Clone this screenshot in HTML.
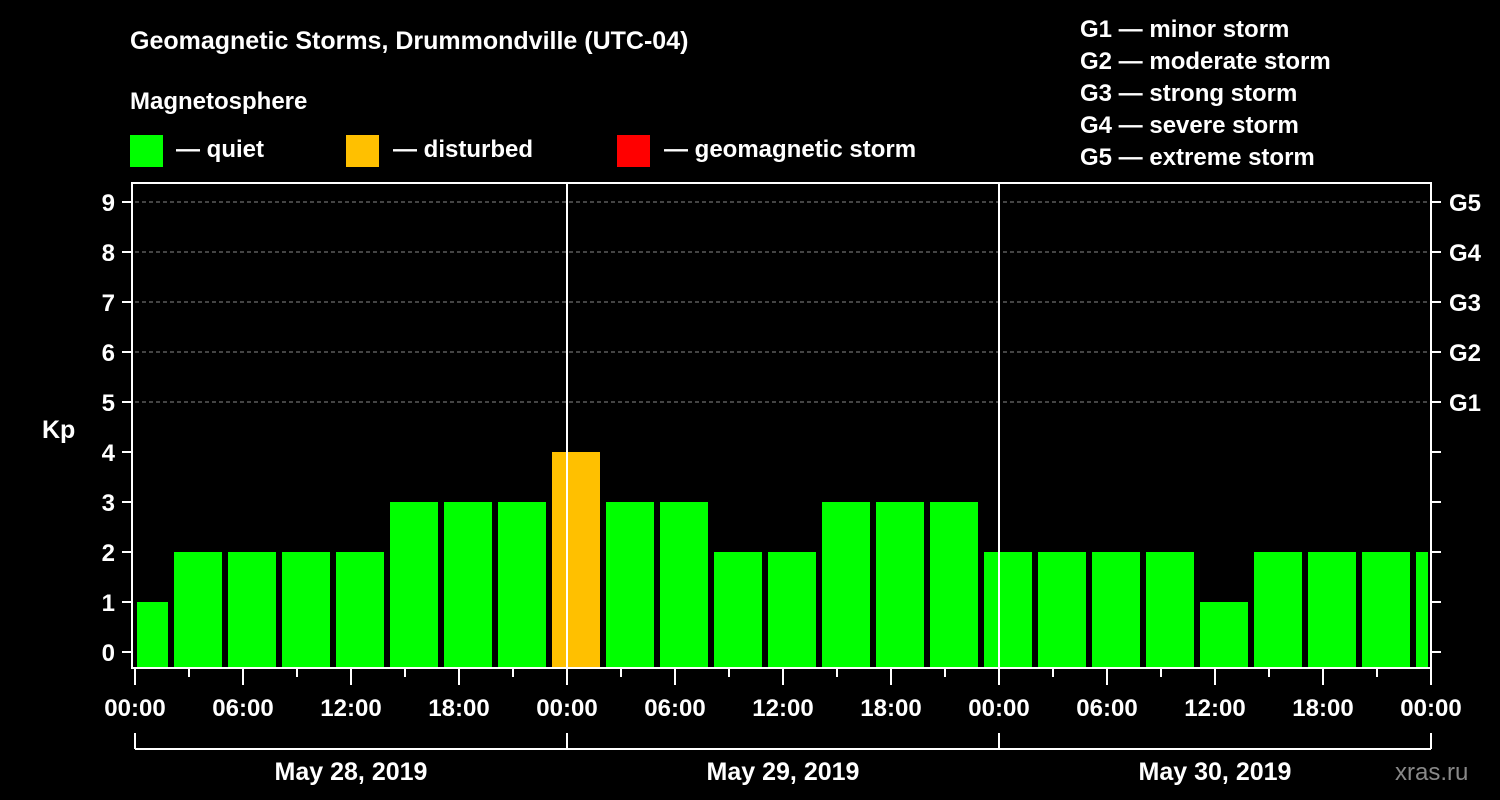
<!DOCTYPE html>
<html><head><meta charset="utf-8"><style>
body{margin:0;background:#000;}
svg{display:block;font-family:"Liberation Sans",Arial,sans-serif;font-weight:bold;}
</style></head><body>
<svg width="1500" height="800" viewBox="0 0 1500 800">
<rect width="1500" height="800" fill="#000"/>
<text x="130" y="49" fill="#fff" font-size="25">Geomagnetic Storms, Drummondville (UTC-04)</text>
<text x="130" y="109" fill="#fff" font-size="24">Magnetosphere</text>
<g><rect x="130" y="135" width="33" height="32" fill="#00ff00"/><text x="176" y="157" fill="#fff" font-size="24">— quiet</text></g>
<g><rect x="346" y="135" width="33" height="32" fill="#ffc000"/><text x="393" y="157" fill="#fff" font-size="24">— disturbed</text></g>
<g><rect x="617" y="135" width="33" height="32" fill="#ff0000"/><text x="664" y="157" fill="#fff" font-size="24">— geomagnetic storm</text></g>
<g fill="#fff" font-size="24">
<text x="1080" y="37">G1 — minor storm</text>
<text x="1080" y="69">G2 — moderate storm</text>
<text x="1080" y="101">G3 — strong storm</text>
<text x="1080" y="133">G4 — severe storm</text>
<text x="1080" y="165">G5 — extreme storm</text>
</g>
<text x="42" y="438" fill="#fff" font-size="25">Kp</text>
<text x="1395" y="780" fill="#888" font-size="24" font-weight="normal">xras.ru</text>
<g id="plot"></g>
</svg>
<script>
const kpValues=[1,2,2,2,2,3,3,3,4,3,3,2,2,3,3,3,2,2,2,2,1,2,2,2,2];
const startHour=-1;
const xTickLabels=["00:00","06:00","12:00","18:00","00:00","06:00","12:00","18:00","00:00","06:00","12:00","18:00","00:00"];
const dateLabels=["May 28, 2019","May 29, 2019","May 30, 2019"];
const yTicks=[0,1,2,3,4,5,6,7,8,9];
const gLabels=["G1","G2","G3","G4","G5"];
const NS="http://www.w3.org/2000/svg";
const g=document.getElementById('plot');
const L=135,R=1431,T=183,B=668;
const x=h=>L+h*18;
const y=v=>652-v*50;
function mk(t,a,p){const e=document.createElementNS(NS,t);for(const k in a)e.setAttribute(k,a[k]);(p||g).appendChild(e);return e;}
// grid
for(let v=5;v<=9;v++){const e=mk('line',{x1:L,x2:R,y1:y(v),y2:y(v),stroke:'#888','stroke-dasharray':'4,3','stroke-width':1});

}
// bars
kpValues.forEach((v,i)=>{const h0=startHour+i*3;let x0=x(h0)+3,x1=x(h0+3)-3;x0=Math.max(x0,L+2);x1=Math.min(x1,R-3);
const col=v>=5?'#ff0000':(v>=4?'#ffc000':'#00ff00');
const r=mk('rect',{x:x0,y:y(v),width:x1-x0,height:B-1-y(v),fill:col});

});
// day separators
[24,48].forEach(h=>{const e=mk('line',{x1:x(h),x2:x(h),y1:T,y2:B,stroke:'#fff','stroke-width':2});

});
// frame
const f=mk('rect',{x:132,y:T,width:R-132,height:B-T,fill:'none',stroke:'#fff','stroke-width':2});


// y ticks
yTicks.forEach(v=>{mk('line',{x1:122,x2:132,y1:y(v),y2:y(v),stroke:'#fff','stroke-width':2});
mk('line',{x1:R,x2:R+10,y1:y(v),y2:y(v),stroke:'#fff','stroke-width':2});
const t=mk('text',{x:115,y:y(v)+9,fill:'#fff','font-size':24,'text-anchor':'end'});t.textContent=v;

});
gLabels.forEach((s,i)=>{const t=mk('text',{x:1449,y:y(5+i)+9,fill:'#fff','font-size':24});t.textContent=s;

});
// x ticks
for(let h=0;h<=72;h+=3){mk('line',{x1:x(h),x2:x(h),y1:B,y2:h%6==0?685:677,stroke:'#fff','stroke-width':2});}
xTickLabels.forEach((s,i)=>{const t=mk('text',{x:x(i*6),y:716,fill:'#fff','font-size':24,'text-anchor':'middle'});t.textContent=s;

});
// date bracket
mk('line',{x1:L,x2:x(72),y1:749,y2:749,stroke:'#fff','stroke-width':2});
for(let d=0;d<=3;d++)mk('line',{x1:x(d*24),x2:x(d*24),y1:733,y2:749,stroke:'#fff','stroke-width':2});
dateLabels.forEach((s,i)=>{const t=mk('text',{x:x(i*24+12),y:780,fill:'#fff','font-size':25,'text-anchor':'middle'});t.textContent=s;

});
</script>
</body></html>
